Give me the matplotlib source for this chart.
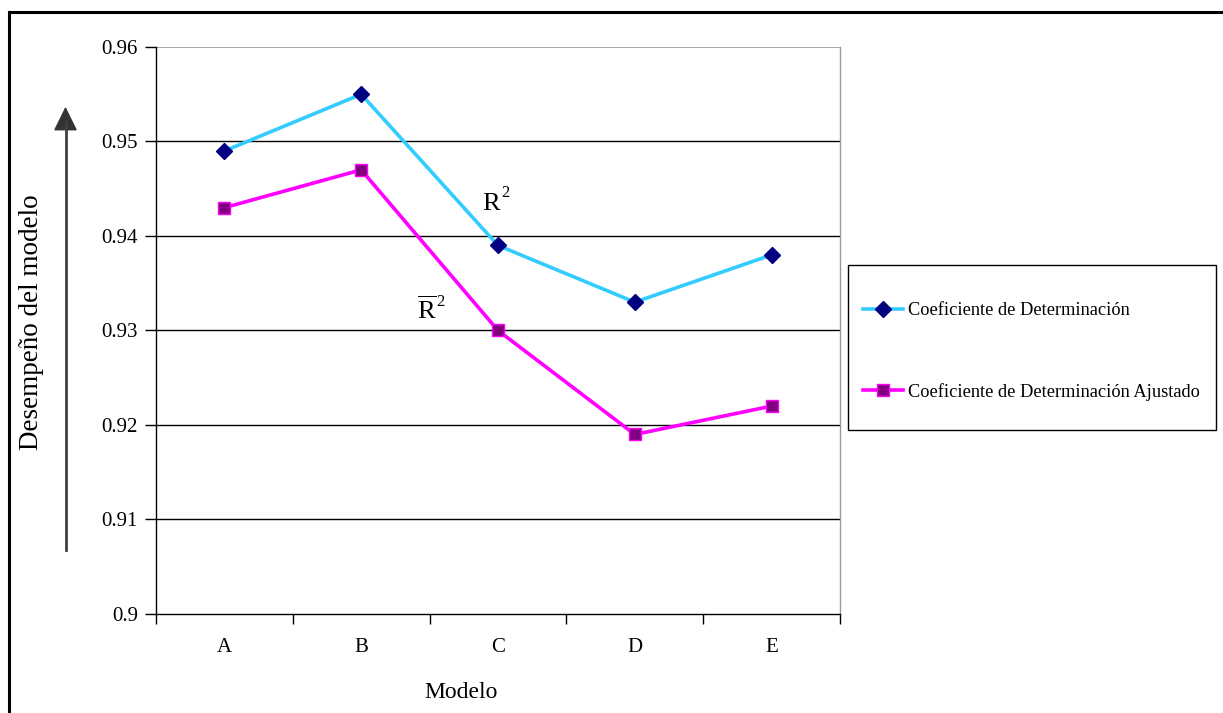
import matplotlib
matplotlib.use('Agg')
import matplotlib.pyplot as plt
from matplotlib.patches import Rectangle
from matplotlib.transforms import IdentityTransform

plt.rcParams['font.family'] = ['Liberation Serif', 'DejaVu Serif']
plt.rcParams['mathtext.fontset'] = 'custom'
plt.rcParams['mathtext.rm'] = 'Liberation Serif'
plt.rcParams['mathtext.it'] = 'Liberation Serif'

# data
modelos = ['A', 'B', 'C', 'D', 'E']
r2 = [0.949, 0.955, 0.939, 0.933, 0.938]
r2_ajustado = [0.943, 0.947, 0.930, 0.919, 0.922]
yticks = [0.90, 0.91, 0.92, 0.93, 0.94, 0.95, 0.96]
ytick_labels = ['0.9', '0.91', '0.92', '0.93', '0.94', '0.95', '0.96']

W, H = 1223, 713
px = IdentityTransform()  # figure pixels, origin bottom-left
fig = plt.figure(figsize=(W / 100, H / 100), dpi=100)
ax = fig.add_axes([156 / W, 1 - 614 / H, (840 - 156) / W, (614 - 47) / H])

x = list(range(len(modelos)))

# gridlines
for v in yticks[1:-1]:
    ax.axhline(v, color='black', lw=1.0, zorder=1)
ax.axhline(yticks[-1], color='#999999', lw=1.2, zorder=1)

l1, = ax.plot(x, r2, color='#33CCFF', lw=2.6, marker='D', ms=8,
              mfc='#000080', mec='#000080', zorder=3,
              label='Coeficiente de Determinación')
l2, = ax.plot(x, r2_ajustado, color='#FF00FF', lw=2.6, marker='s', ms=9,
              mfc='#800080', mec='#FF00FF', mew=1.0, zorder=3,
              label='Coeficiente de Determinación Ajustado')

ax.set_xlim(-0.5, len(modelos) - 0.5)
ax.set_ylim(0.90, 0.96)

ax.set_yticks(yticks)
ax.set_yticklabels(ytick_labels, fontsize=15)
ax.tick_params(axis='y', direction='out', length=8, width=1, pad=5)

ax.set_xticks(x)
ax.set_xticklabels(modelos, fontsize=15)
ax.tick_params(axis='x', which='major', length=0, pad=17)
ax.set_xticks([i - 0.5 for i in range(len(modelos) + 1)], minor=True)
ax.tick_params(axis='x', which='minor', direction='out', length=7, width=1)

ax.spines['top'].set_visible(False)
ax.spines['right'].set_color('#999999')
ax.spines['left'].set_color('black')
ax.spines['bottom'].set_color('black')
for s in ax.spines.values():
    s.set_linewidth(1.0)

# R^2 labels
fig.text(491, H - 204, 'R', fontsize=19, ha='center', va='center', transform=px)
fig.text(505, H - 193, '2', fontsize=12, ha='center', va='center', transform=px)
fig.text(427, H - 310, r'$\overline{\mathrm{R}}$', fontsize=19, ha='center',
         va='center', transform=px)
fig.text(440, H - 302, '2', fontsize=12, ha='center', va='center', transform=px)

# legend box and entries
fig.add_artist(Rectangle((848, H - 430), 1216 - 848, 430 - 265, transform=px,
                         fill=False, edgecolor='black', lw=1.0))
fig.legend(handles=[l1, l2], loc='upper left',
           bbox_to_anchor=(863, H - 302), bbox_transform=px,
           fontsize=13.2, frameon=False, handlelength=2.18,
           handletextpad=0.27, borderpad=0, labelspacing=3.48,
           borderaxespad=0)

# axis labels
fig.text(32, H - 322, 'Desempeño del modelo', rotation=90,
         fontsize=19.5, ha='center', va='center', transform=px)
fig.text(461, H - 692, 'Modelo', fontsize=17, ha='center', va='center',
         transform=px)

# arrow on the left
fig.add_artist(plt.Line2D([65.5, 65.5], [H - 550, H - 122], transform=px,
                          color='#404040', lw=2))
ax.annotate('', xy=(65.5, H - 104), xytext=(65.5, H - 126),
            xycoords='figure pixels', textcoords='figure pixels',
            arrowprops=dict(arrowstyle='-|>,head_length=0.55,head_width=0.27',
                            color='#333333', lw=1, mutation_scale=28),
            annotation_clip=False)

# outer frame
fig.add_artist(Rectangle((9, -50), 1400, H - 12 + 50, transform=px,
                         fill=False, edgecolor='black', lw=2.2))

fig.savefig('out.png', dpi=100)
